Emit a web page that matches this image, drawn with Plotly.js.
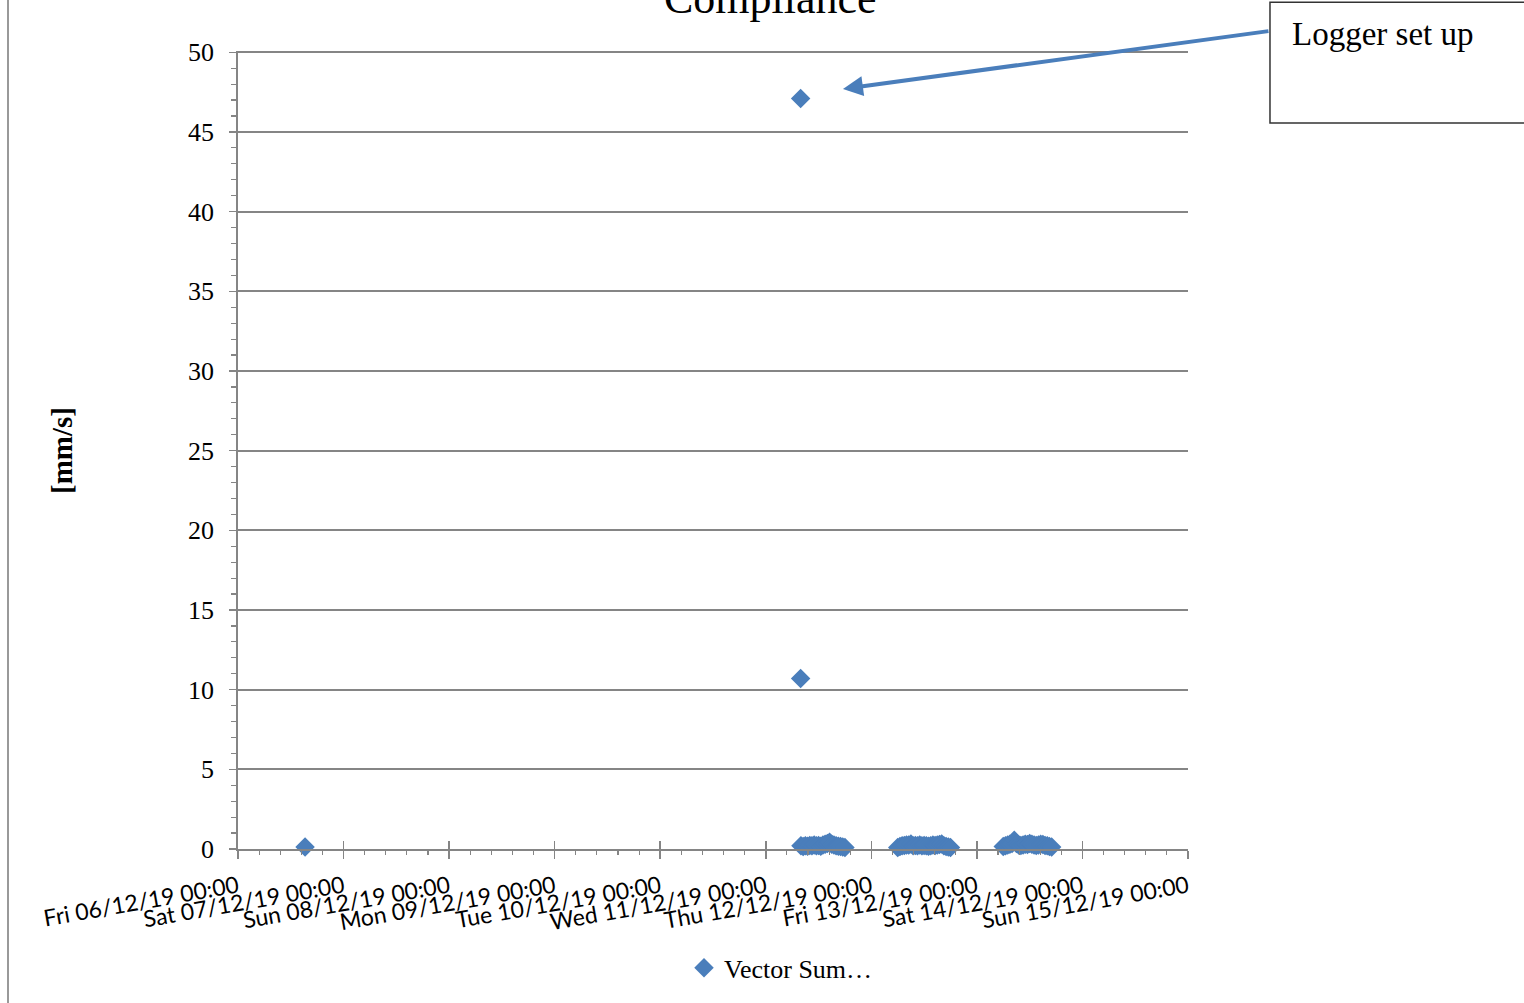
<!DOCTYPE html>
<html>
<head>
<meta charset="utf-8">
<script src="https://cdn.plot.ly/plotly-3.0.1.min.js"></script>
<style>
  html, body { margin: 0; padding: 0; background: #ffffff; }
  #chart { width: 1524px; height: 1003px; }
</style>
</head>
<body>
<div id="chart"></div>
<script>
// ---- data ----
const seriesName = 'Vector Sum…';
const chartTitle = 'Compliance';
const yTitle = '[mm/s]';
const calloutText = 'Logger set up';
const xStart = '2019-12-06 00:00';
const xEnd = '2019-12-15 00:00';

const earlyTimes = ['2019-12-06 15:15'];
const earlyValues = [0.12];

const setupTimes = ['2019-12-11 07:55', '2019-12-11 07:55'];
const setupValues = [47.1, 10.7];

const wedTimes = ['2019-12-11 08:00','2019-12-11 08:30','2019-12-11 09:00','2019-12-11 09:30','2019-12-11 10:00','2019-12-11 10:30','2019-12-11 11:00','2019-12-11 11:30','2019-12-11 12:00','2019-12-11 12:30','2019-12-11 13:00','2019-12-11 13:30','2019-12-11 14:00','2019-12-11 14:30','2019-12-11 15:00','2019-12-11 15:30','2019-12-11 16:00','2019-12-11 16:30','2019-12-11 17:00','2019-12-11 17:30','2019-12-11 18:00'];
const wedValues = [0.2,0.15,0.2,0.18,0.22,0.2,0.25,0.2,0.22,0.18,0.25,0.3,0.35,0.42,0.3,0.25,0.2,0.18,0.15,0.12,0.1];

const thuTimes = ['2019-12-12 06:00','2019-12-12 06:30','2019-12-12 07:00','2019-12-12 07:30','2019-12-12 08:00','2019-12-12 08:30','2019-12-12 09:00','2019-12-12 09:30','2019-12-12 10:00','2019-12-12 10:30','2019-12-12 11:00','2019-12-12 11:30','2019-12-12 12:00','2019-12-12 12:30','2019-12-12 13:00','2019-12-12 13:30','2019-12-12 14:00','2019-12-12 14:30','2019-12-12 15:00','2019-12-12 15:30','2019-12-12 16:00','2019-12-12 16:30','2019-12-12 17:00','2019-12-12 17:30','2019-12-12 18:00'];
const thuValues = [0.1,0.15,0.2,0.22,0.25,0.25,0.32,0.2,0.22,0.2,0.25,0.2,0.22,0.2,0.18,0.2,0.25,0.22,0.25,0.28,0.32,0.2,0.15,0.12,0.1];

const friTimes = ['2019-12-13 06:00','2019-12-13 06:30','2019-12-13 07:00','2019-12-13 07:30','2019-12-13 08:00','2019-12-13 08:30','2019-12-13 09:00','2019-12-13 09:30','2019-12-13 10:00','2019-12-13 10:30','2019-12-13 11:00','2019-12-13 11:30','2019-12-13 12:00','2019-12-13 12:30','2019-12-13 13:00','2019-12-13 13:30','2019-12-13 14:00','2019-12-13 14:30','2019-12-13 15:00','2019-12-13 15:30','2019-12-13 16:00','2019-12-13 16:30','2019-12-13 17:00'];
const friValues = [0.15,0.2,0.25,0.3,0.35,0.55,0.35,0.25,0.22,0.25,0.3,0.28,0.35,0.3,0.25,0.22,0.25,0.3,0.28,0.22,0.2,0.15,0.12];

// ---- styling ----
const blue = '#4a7ebb';
const grey = '#858585';
const serif = 'Liberation Serif, Times New Roman, serif';
const sans = 'Lato, Noto Sans, sans-serif';

const allTimes = [].concat(earlyTimes, setupTimes, wedTimes, thuTimes, friTimes);
const allValues = [].concat(earlyValues, setupValues, wedValues, thuValues, friValues);

const traces = [
  {
    type: 'scatter', mode: 'markers', name: seriesName,
    x: allTimes, y: allValues, cliponaxis: false,
    marker: { symbol: 'diamond', size: 15, color: blue, line: { width: 0 } },
    hoverinfo: 'x+y'
  },
  {
    type: 'scatter', mode: 'markers', x: [], y: [], xaxis: 'x2',
    showlegend: false, hoverinfo: 'skip'
  }
];

const layout = {
  width: 1524, height: 1003,
  paper_bgcolor: '#ffffff', plot_bgcolor: '#ffffff',
  margin: { l: 238, r: 336, t: 51, b: 150, pad: 0 },
  showlegend: true,
  legend: {
    orientation: 'h', x: 0.5716, xanchor: 'center', y: -0.149, yanchor: 'middle',
    font: { family: serif, size: 26, color: '#000000' },
    bgcolor: 'rgba(0,0,0,0)'
  },
  xaxis: {
    type: 'date', range: [xStart, xEnd], automargin: false,
    tick0: xStart, dtick: 86400000,
    tickformat: '%a %d/%m/%y %H:%M', tickangle: -10,
    tickfont: { family: sans, size: 23, color: '#000000' },
    ticks: 'outside', ticklen: 8, tickwidth: 1.5, tickcolor: grey,
    ticklabelstandoff: 6,
    minor: { ticks: 'outside', dtick: 17280000, ticklen: 4, tickwidth: 1.2, tickcolor: grey, showgrid: false },
    showgrid: false, zeroline: false,
    showline: true, linecolor: grey, linewidth: 1.8,
    fixedrange: true
  },
  xaxis2: {
    type: 'date', range: [xStart, xEnd], overlaying: 'x', anchor: 'y', automargin: false,
    tick0: xStart, dtick: 86400000,
    ticks: 'inside', ticklen: 8, tickwidth: 1.5, tickcolor: grey,
    showticklabels: false, showgrid: false, zeroline: false, showline: false
  },
  yaxis: {
    range: [0, 50.08], dtick: 5, tick0: 0, automargin: false,
    tickfont: { family: serif, size: 26, color: '#000000' },
    ticks: 'outside', ticklen: 7, tickwidth: 1.5, tickcolor: grey,
    ticklabelstandoff: 10,
    minor: { ticks: 'outside', dtick: 1, ticklen: 5, tickwidth: 1.2, tickcolor: grey, showgrid: false },
    showgrid: true, gridcolor: grey, gridwidth: 1.8,
    zeroline: false, showline: true, linecolor: grey, linewidth: 1.8,
    fixedrange: true
  },
  shapes: [
    { type: 'line', xref: 'paper', yref: 'paper', x0: -0.2421, x1: -0.2421, y0: -0.3, y1: 1.2,
      line: { color: '#999999', width: 2 } },
    { type: 'rect', xref: 'paper', yref: 'paper', x0: 1.0863, x1: 1.40, y0: 0.9097, y1: 1.0612,
      line: { color: '#333333', width: 1.5 }, fillcolor: '#ffffff', layer: 'above' }
  ],
  annotations: [
    { xref: 'paper', yref: 'paper', x: 0.56, y: 1.066, xanchor: 'center', yanchor: 'middle',
      text: chartTitle, showarrow: false, font: { family: serif, size: 44, color: '#000000' } },
    { xref: 'paper', yref: 'paper', x: -0.1853, y: 0.5, xanchor: 'center', yanchor: 'middle',
      text: '<b>' + yTitle + '</b>', textangle: -90, showarrow: false,
      font: { family: serif, size: 29, color: '#000000' } },
    { xref: 'paper', yref: 'paper', x: 0.6368, y: 0.9525, axref: 'pixel', ayref: 'pixel',
      ax: 427, ay: -58, text: '', showarrow: true,
      arrowcolor: blue, arrowwidth: 4, arrowhead: 2, arrowsize: 1 },
    { xref: 'paper', yref: 'paper', x: 1.1074, y: 1.021, xanchor: 'left', yanchor: 'middle',
      text: calloutText, showarrow: false, font: { family: serif, size: 33, color: '#000000' } }
  ]
};

Plotly.newPlot('chart', traces, layout, { displayModeBar: false, staticPlot: true });
</script>
</body>
</html>
